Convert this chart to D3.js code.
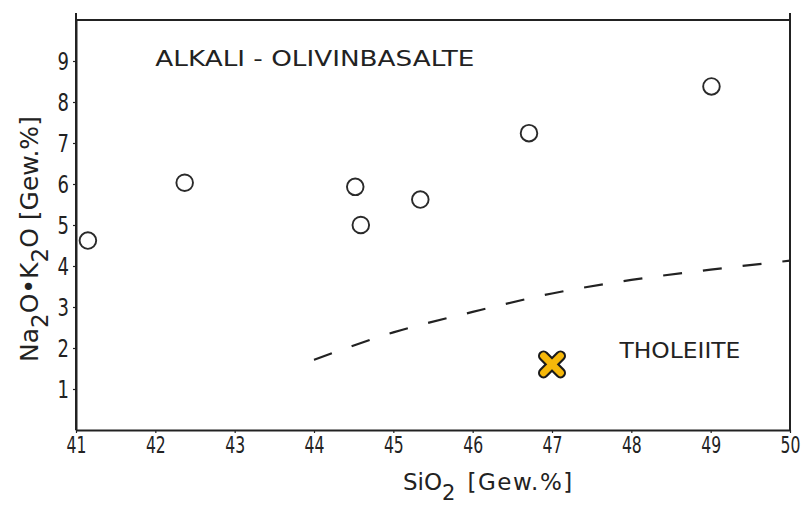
<!DOCTYPE html>
<html>
<head>
<meta charset="utf-8">
<script src="https://cdn.jsdelivr.net/npm/d3@7"></script>
<style>
  html, body { margin: 0; padding: 0; background: #fff; }
  svg { display: block; }
  text { font-family: "DejaVu Sans", sans-serif; fill: #222; }
</style>
</head>
<body>
<svg id="chart" width="807" height="514"></svg>
<script>
// ---- data ----
const sampleSiO2 = [41.15, 42.37, 44.52, 44.59, 45.34, 46.71, 49.01];
const sampleAlk  = [4.62, 6.03, 5.93, 5.00, 5.62, 7.24, 8.38];
const markerSiO2 = [47.0];
const markerAlk  = [1.6];
const boundSiO2 = [44, 45, 46, 47, 48, 49, 50];
const boundAlk  = [1.71, 2.38, 2.88, 3.33, 3.66, 3.91, 4.13];
const xTicks = [41, 42, 43, 44, 45, 46, 47, 48, 49, 50];
const yTicks = [1, 2, 3, 4, 5, 6, 7, 8, 9];
const fieldLabels = ["ALKALI - OLIVINBASALTE", "THOLEIITE"];
const fieldLabelPos = [[42.0, 8.88], [47.9, 1.76]];

const svg = d3.select("#chart");
const ink = "#222";

const x = d3.scaleLinear().domain([41, 50]).range([76, 790]);
const y = d3.scaleLinear().domain([0, 10]).range([430, 20]);

// frame
const g = svg.append("g");
g.append("line").attr("x1", x(41)).attr("x2", x(50)).attr("y1", y(10)).attr("y2", y(10))
  .attr("stroke", ink).attr("stroke-width", 2);
g.append("line").attr("x1", x(50)).attr("x2", x(50)).attr("y1", y(10) - 7).attr("y2", y(0))
  .attr("stroke", ink).attr("stroke-width", 2);
g.append("line").attr("x1", x(41)).attr("x2", x(41)).attr("y1", y(10) - 7).attr("y2", y(0))
  .attr("stroke", ink).attr("stroke-width", 2);

// axes
const xAxis = d3.axisBottom(x).tickValues(xTicks).tickSize(3).tickSizeOuter(0).tickPadding(4)
  .tickFormat(d3.format("d"));
const gx = svg.append("g").attr("transform", `translate(0,${y(0)})`).call(xAxis);
gx.select(".domain").attr("stroke", ink).attr("stroke-width", 2);
gx.selectAll(".tick line").attr("stroke", ink).attr("stroke-width", 1.2);
gx.selectAll(".tick text").style("font-size", "23px").attr("fill", ink)
  .attr("transform", "scale(0.68,1)");

const yAxis = d3.axisLeft(y).tickValues(yTicks).tickSize(3).tickSizeOuter(0).tickPadding(4)
  .tickFormat(d3.format("d"));
const gy = svg.append("g").attr("transform", `translate(${x(41)},0)`).call(yAxis);
gy.select(".domain").attr("stroke", ink).attr("stroke-width", 2);
gy.selectAll(".tick line").attr("stroke", ink).attr("stroke-width", 1.2);
gy.selectAll(".tick text").style("font-size", "25px").attr("fill", ink)
  .attr("x", -7 / 0.72).attr("transform", "scale(0.72,1)");

// boundary dashed line
const line = d3.line().x(d => x(d[0])).y(d => y(d[1])).curve(d3.curveMonotoneX);
svg.append("path")
  .datum(boundSiO2.map((v, i) => [v, boundAlk[i]]))
  .attr("d", line)
  .attr("fill", "none").attr("stroke", ink).attr("stroke-width", 2.2)
  .attr("stroke-dasharray", "19,21");

// sample circles
svg.append("g").selectAll("circle")
  .data(sampleSiO2.map((v, i) => [v, sampleAlk[i]]))
  .join("circle")
  .attr("cx", d => x(d[0])).attr("cy", d => y(d[1])).attr("r", 8.3)
  .attr("fill", "#fff").attr("stroke", "#2a2a2a").attr("stroke-width", 1.9);

// highlighted X marker
const mk = svg.append("g");
markerSiO2.forEach((v, i) => {
  const cx = x(v), cy = y(markerAlk[i]), a = 8.5;
  const d = `M${cx - a},${cy - a}L${cx + a},${cy + a}M${cx - a},${cy + a}L${cx + a},${cy - a}`;
  mk.append("path").attr("d", d).attr("stroke", "#1a1a1a").attr("stroke-width", 11)
    .attr("stroke-linecap", "round").attr("fill", "none");
  mk.append("path").attr("d", d).attr("stroke", "#F6B80A").attr("stroke-width", 6.8)
    .attr("stroke-linecap", "round").attr("fill", "none");
});

// field labels
svg.append("text").attr("x", x(fieldLabelPos[0][0]) + 0).attr("y", y(fieldLabelPos[0][1]))
  .attr("textLength", 319).attr("lengthAdjust", "spacingAndGlyphs")
  .style("font-size", "22px").text(fieldLabels[0]);
svg.append("text").attr("x", x(fieldLabelPos[1][0]) - 4).attr("y", y(fieldLabelPos[1][1]))
  .attr("textLength", 121).attr("lengthAdjust", "spacingAndGlyphs")
  .style("font-size", "21px").text(fieldLabels[1]);

// axis titles
const xt = svg.append("text").attr("x", 403).attr("y", 490).style("font-size", "23px");
xt.append("tspan").text("SiO");
xt.append("tspan").attr("dy", 10).style("font-size", "21px").text("2");
xt.append("tspan").attr("dy", -10).attr("dx", 12).style("letter-spacing", "1.5px").text("[Gew.%]");

const yt = svg.append("text").attr("transform", "translate(38,362) rotate(-90)").style("font-size", "25px");
yt.append("tspan").text("Na");
yt.append("tspan").attr("dy", 10).style("font-size", "23px").text("2");
yt.append("tspan").attr("dy", -10).text("O\u2022K");
yt.append("tspan").attr("dy", 10).style("font-size", "23px").text("2");
yt.append("tspan").attr("dy", -10).text("O [Gew.%]");
</script>
</body>
</html>
